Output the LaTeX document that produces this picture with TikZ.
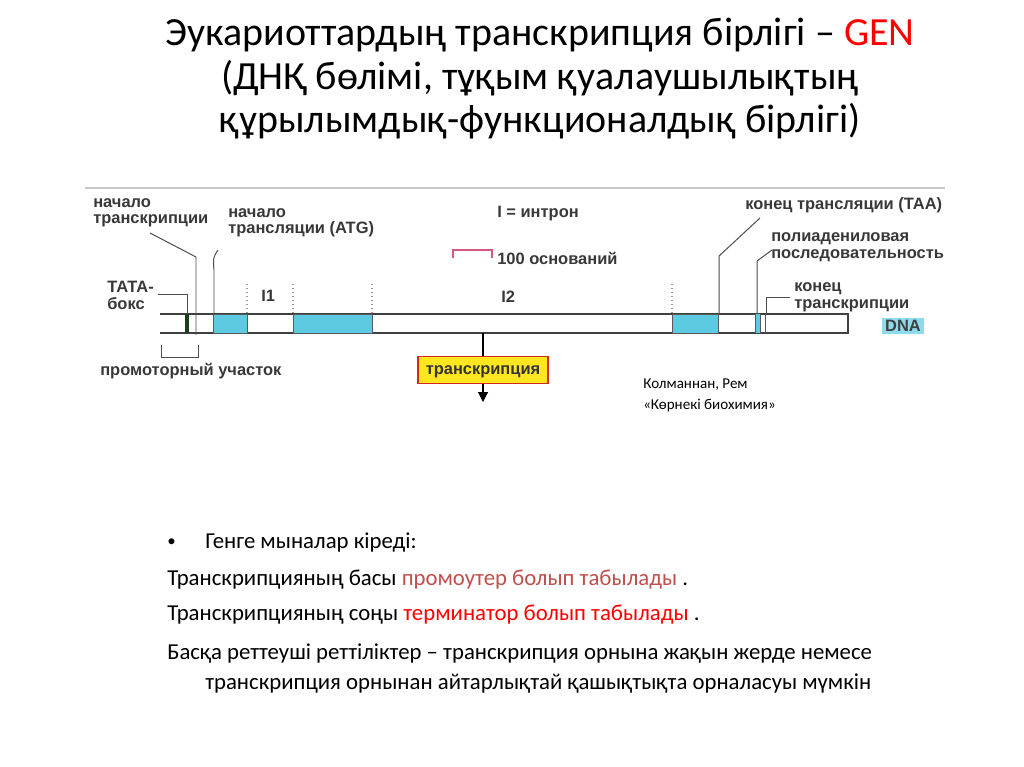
\documentclass[tikz,border=0pt]{standalone}
\usepackage{fontspec}
\setmainfont{Carlito}
\newfontfamily\figfont{Liberation Sans}
\usetikzlibrary{arrows.meta,positioning}
\definecolor{exoncyan}{HTML}{5CCBE2}
\definecolor{tatagreen}{HTML}{1C3F1C}
\definecolor{boxyellow}{HTML}{FFE61E}
\definecolor{boxred}{HTML}{D2281E}
\definecolor{slidered}{HTML}{C0504D}
\definecolor{scalepink}{HTML}{D4587E}
\tikzset{
  figtext/.style={font=\figfont\bfseries\fontsize{11.7}{12}\selectfont, text=black!78, align=left, inner sep=0pt, anchor=base west},
  leader/.style={black!70, line width=0.7pt},
  strand/.style={black!75, line width=0.9pt},
  exon/.style={fill=exoncyan, draw=black!65, line width=0.6pt},
  boundary/.style={black!40, dotted, line width=0.8pt},
  bodytext/.style={font=\fontsize{16.2}{20}\selectfont, anchor=base west, inner sep=0pt},
  txbox/.style={draw=boxred, fill=boxyellow, line width=1.4pt, inner xsep=3pt, inner ysep=0pt, minimum width=130*0.025cm, text height=9pt, text depth=3pt, minimum height=27*0.025cm, font=\figfont\bfseries\fontsize{11.7}{12}\selectfont, text=black!80}
}
\begin{document}
\begin{tikzpicture}[x=0.025cm, y=-0.025cm]
  \useasboundingbox[fill=white] (0,0) rectangle (1024,767);

  % title
  \node[align=center, anchor=base, inner sep=0pt, font=\fontsize{28.4}{31.2}\selectfont] (title) at (540,133)
    {Эукариоттардың транскрипция бірлігі -- \textcolor{red}{GEN}\\
     (ДНҚ бөлімі, тұқым қуалаушылықтың\\
     құрылымдық-функционалдық бірлігі)};

  % scan edge
  \draw[black!22, line width=1pt] (85,188) -- (945,188);

  % DNA strand
  \draw[strand] (160,314) -- (848,314) -- (848,333) -- (160,333);
  \fill[tatagreen] (185,314) rectangle (189,333);
  \draw[exon] (213,314) rectangle (247,333);
  \draw[exon] (293,314) rectangle (372,333);
  \draw[exon] (672,314) rectangle (718,333);
  \fill[exoncyan] (755,314) rectangle (760,333);
  \foreach \x in {755,760,765}
    \draw[black!65, line width=0.6pt] (\x,314) -- (\x,333);
  \foreach \x in {247,293,372,672}
    \draw[boundary] (\x,284) -- (\x,313);

  % labels (base = last line)
  \node[figtext] (startTx) at (93,224) {начало\\транскрипции};
  \node[figtext] (startTl) at (228,234) {начало\\трансляции (ATG)};
  \node[figtext] (intronkey) at (497,218) {I = интрон};
  \node[figtext] (scale) at (497,264) {100 оснований};
  \node[figtext] (intronA) at (261,301) {I1};
  \node[figtext] (intronB) at (501,302) {I2};
  \node[figtext] (tata) at (107,309) {ТАТА-\\бокс};
  \node[figtext] (promoter) at (100,375) {промоторный участок};
  \node[figtext] (endTl) at (745,210) {конец трансляции (ТАА)};
  \node[figtext] (polyA) at (771,258) {полиадениловая\\последовательность};
  \node[figtext] (endTx) at (794,308) {конец\\транскрипции};
  \node[fill=exoncyan!70, inner sep=2pt, font=\figfont\bfseries\fontsize{11.7}{12}\selectfont, text=black!75] (dna) at (903,326) {DNA};

  % leaders
  \coordinate (tss) at (196,335);
  \coordinate (atg) at (214,314);
  \coordinate (tatapos) at (187,313);
  \coordinate (taa) at (719,314);
  \coordinate (polypos) at (757,314);
  \coordinate (endpos) at (766,313);
  \draw[leader] (150,233) -- (196,257) -- (tss);
  \draw[leader] (218,250) .. controls (213,258) .. (214,270) -- (atg);
  \draw[leader] (158,294) -- (187,294) -- (tatapos);
  \draw[leader] (760,218) -- (719,256) -- (taa);
  \draw[leader] (772,250) -- (757,261) -- (polypos);
  \draw[leader] (790,297) -- (766,297) -- (endpos);
  \draw[leader] (161,345) -- (161,357) -- (198,357) -- (198,345);
  \draw[scalepink, line width=1pt] (453,258) -- (453,250) -- (492,250) -- (492,258);

  % transcription
  \node[txbox] (tx) at (483,370) {транскрипция};
  \coordinate (strandbot) at (483,333);
  \coordinate (txend) at (483,402);
  \draw[black, line width=0.8pt] (strandbot) -- (tx);
  \draw[black, line width=0.8pt, -{Triangle[length=7pt, width=7pt]}] (tx) -- (txend);

  % citation
  \node[anchor=base west, inner sep=0pt, align=left, font=\fontsize{10.7}{14.5}\selectfont] (cite) at (643,409)
    {Колманнан, Рем\\«Көрнекі биохимия»};

  % body text
  \node[bodytext, font=\fontsize{12}{14}\selectfont] (bullet) at (167,546) {•};
  \node[bodytext] (lineA) at (205,548) {Генге мыналар кіреді:};
  \node[bodytext] (lineB) at (167,585) {Транскрипцияның басы \textcolor{slidered}{промоутер болып табылады} .};
  \node[bodytext] (lineC) at (167,620) {Транскрипцияның соңы \textcolor{red}{терминатор болып табылады} .};
  \node[bodytext] (lineD) at (167,659) {Басқа реттеуші реттіліктер -- транскрипция орнына жақын жерде немесе};
  \node[bodytext] (lineE) at (205,689) {транскрипция орнынан айтарлықтай қашықтықта орналасуы мүмкін};
\end{tikzpicture}
\end{document}
